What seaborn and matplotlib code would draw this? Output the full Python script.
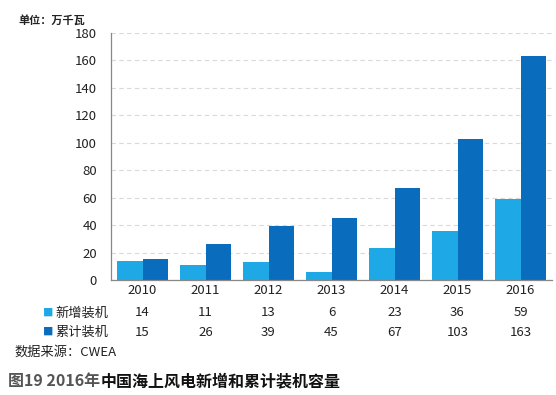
import matplotlib
matplotlib.use("Agg")
import matplotlib.pyplot as plt
import matplotlib.transforms as mtransforms
import pandas as pd
import seaborn as sns

years = ["2010", "2011", "2012", "2013", "2014", "2015", "2016"]
new_install = [14, 11, 13, 6, 23, 36, 59]
cumulative = [15, 26, 39, 45, 67, 103, 163]
series_names = ["新增装机", "累计装机"]
yticks = list(range(0, 181, 20))

LIGHT = "#1ea9e6"
DARK = "#0a6cbd"

sns.set_theme(style="white")
plt.rcParams["font.family"] = ["Noto Sans CJK SC", "DejaVu Sans"]

df = pd.DataFrame({
    "year": years * 2,
    "value": new_install + cumulative,
    "series": [series_names[0]] * len(years) + [series_names[1]] * len(years),
})

fig = plt.figure(figsize=(5.56, 3.95), dpi=100)
ax = fig.add_axes([111 / 556, 1 - 280 / 395, 441 / 556, 247 / 395])

sns.barplot(data=df, x="year", y="value", hue="series", order=years,
            hue_order=series_names, palette=[LIGHT, DARK], width=0.81,
            gap=0, saturation=1, linewidth=0, ax=ax, legend=False)

ax.set_ylim(0, 180)
ax.set_yticks(yticks)
ax.set_xlim(-0.5, len(years) - 0.5)
ax.set_xlabel("")
ax.set_ylabel("")
ax.yaxis.grid(True, linestyle=(0, (4, 3)), color="#d9d9d9", linewidth=0.8)
ax.set_axisbelow(True)
for side in ["top", "right"]:
    ax.spines[side].set_visible(False)
ax.spines["left"].set_color("#888888")
ax.spines["bottom"].set_color("#888888")
ax.spines["left"].set_linewidth(0.9)
ax.spines["bottom"].set_linewidth(0.9)
ax.tick_params(axis="y", length=0, labelsize=9.5, colors="#222222", pad=10)
ax.tick_params(axis="x", length=0, labelsize=9.5, colors="#222222", pad=3)

# data table below the axis
trans = mtransforms.blended_transform_factory(ax.transData, fig.transFigure)
rows = [new_install, cumulative]
row_y = [1 - 313 / 395, 1 - 332 / 395]
colors = [LIGHT, DARK]
for vals, y, name, c in zip(rows, row_y, series_names, colors):
    for i, v in enumerate(vals):
        ax.text(i, y, str(v), transform=trans, ha="center", va="center",
                fontsize=9.5, color="#222222")
    fig.text(48 / 556, y, "■", color=c, ha="center", va="center", fontsize=7.5)
    fig.text(55 / 556, y, name, ha="left", va="center", fontsize=9.5, color="#222222")

fig.text(14 / 556, 1 - 352 / 395, "数据来源：CWEA", ha="left", va="center",
         fontsize=9.5, color="#222222")
fig.text(18 / 556, 1 - 20 / 395, "单位：万千瓦", ha="left", va="center",
         fontsize=8, fontweight="bold", color="#222222")

t1 = fig.text(8 / 556, 1 - 381 / 395, "图19 2016年", ha="left", va="center",
              fontsize=11.5, fontweight="bold", color="#555555")
fig.canvas.draw()
bb = t1.get_window_extent()
fig.text(bb.x1 / fig.bbox.width, 1 - 381 / 395, "中国海上风电新增和累计装机容量",
         ha="left", va="center", fontsize=11.5, fontweight="bold", color="#111111")

fig.savefig("out.png", dpi=100, facecolor="white")
